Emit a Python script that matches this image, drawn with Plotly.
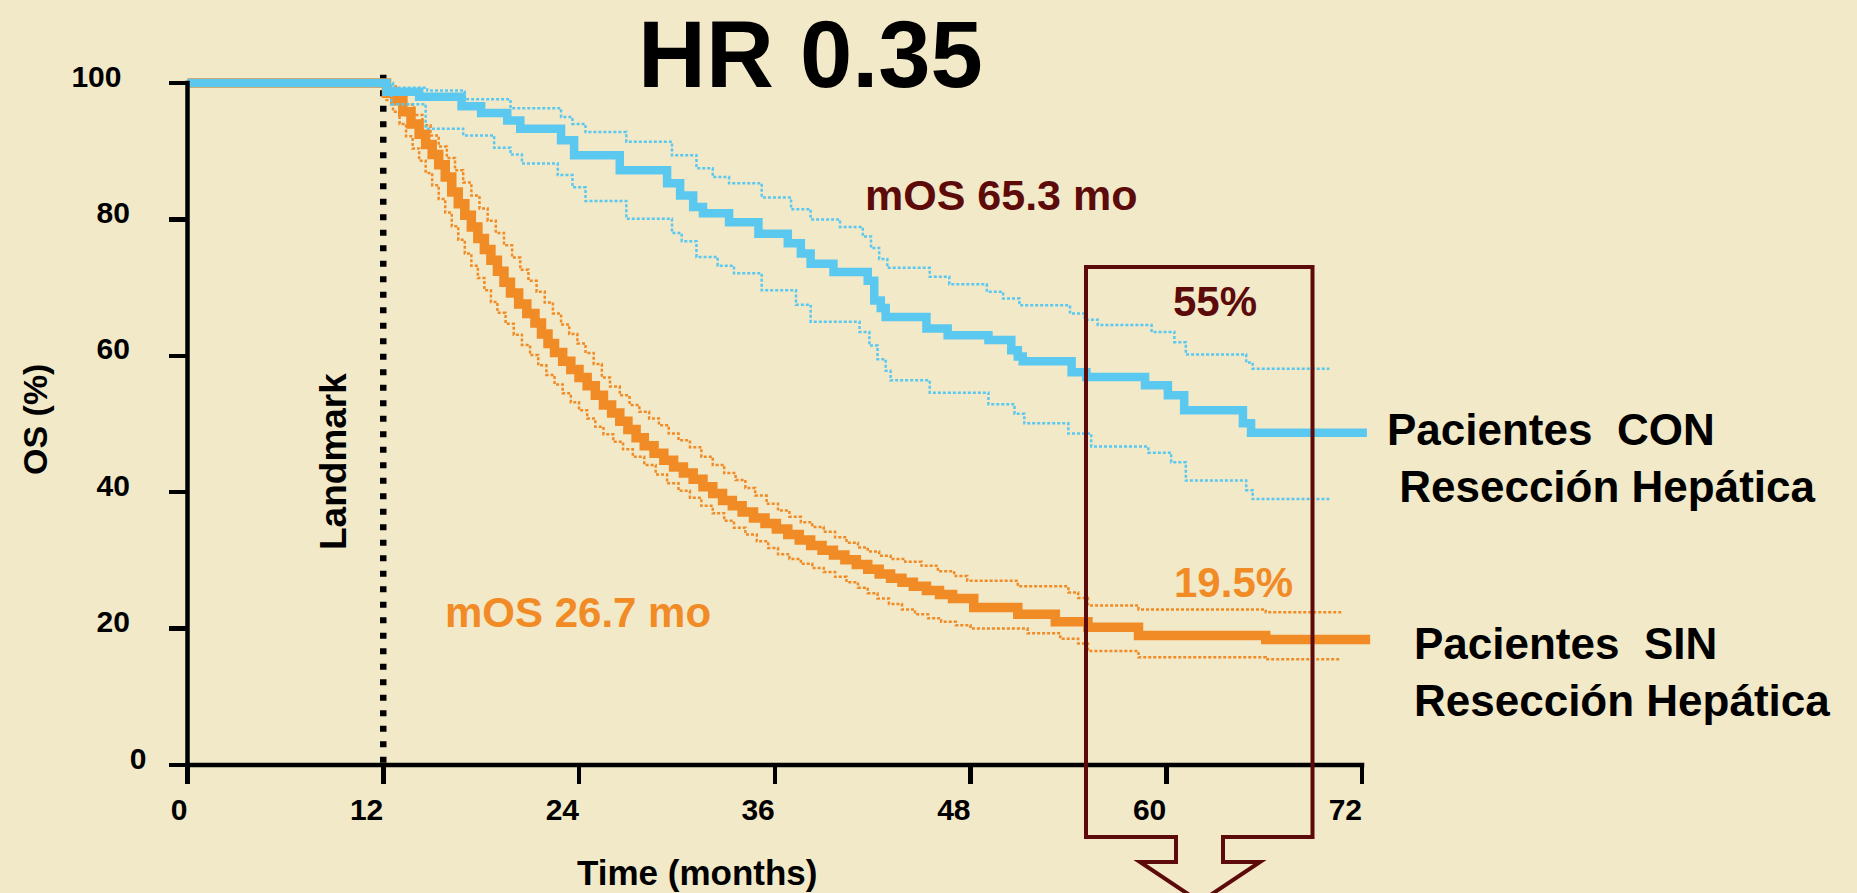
import plotly.graph_objects as go

# ---------------- data ----------------
LANDMARK = 12

# Pacientes CON resección hepática (blue)
con_t = [0, 12.2, 14.2, 16.8, 18.0, 19.6, 20.4, 22.9, 23.7, 26.5, 29.4, 30.2, 31.0, 31.6, 33.2, 35.0,
         36.8, 37.6, 38.2, 39.6, 41.7, 42.1, 42.5, 42.8, 45.3, 46.6, 49.1, 50.5, 50.9, 51.2, 54.2,
         55.1, 58.7, 60.1, 61.1, 64.7, 65.2, 72.3]
con_s = [100, 98.7, 98.0, 96.6, 95.6, 94.5, 93.3, 91.6, 89.4, 87.2, 85.3, 83.5, 81.8, 80.9, 79.6, 77.9,
         76.5, 75.0, 73.5, 72.3, 71.0, 68.1, 67.0, 65.7, 64.0, 63.0, 62.3, 60.8, 59.9, 59.2, 57.6,
         56.9, 55.7, 54.2, 52.0, 50.1, 48.7, 48.7]

con_up_t = [0, 12.6, 14.7, 17.0, 19.8, 22.9, 23.6, 24.4, 26.9, 29.7, 31.2, 32.2, 33.2, 35.2, 37.0,
            38.2, 40.0, 41.4, 41.9, 42.4, 42.9, 45.5, 46.7, 49.0, 50.0, 51.0, 54.1, 55.0, 55.8,
            59.1, 60.5, 61.2, 64.9, 65.3, 70.0]
con_up_s = [100, 99.3, 98.9, 97.6, 96.3, 95.0, 94.0, 92.8, 91.4, 89.4, 87.5, 86.2, 85.3, 83.2, 81.5,
            80.0, 78.9, 77.5, 75.8, 74.2, 72.9, 71.6, 70.5, 69.4, 68.4, 67.4, 66.2, 65.3, 64.5,
            63.5, 62.0, 60.2, 59.0, 58.1, 58.1]

con_lo_t = [0, 12.5, 14.6, 16.9, 18.8, 19.8, 20.5, 22.7, 23.6, 24.4, 26.9, 29.7, 30.3, 31.2, 32.5,
            33.5, 35.2, 37.3, 38.2, 41.2, 41.8, 42.3, 42.8, 43.1, 45.5, 49.1, 50.7, 51.3, 54.0,
            55.4, 58.9, 60.3, 61.2, 64.9, 65.3, 70.0]
con_lo_s = [100, 96.9, 93.3, 92.3, 90.5, 89.5, 88.2, 86.5, 84.7, 82.7, 80.1, 78.0, 76.8, 74.5, 73.2,
            72.1, 69.6, 67.5, 65.0, 63.5, 61.5, 59.5, 57.8, 56.4, 54.6, 52.9, 51.5, 50.1, 48.6,
            46.7, 45.8, 44.4, 41.7, 40.3, 39.0, 39.0]

# Pacientes SIN resección hepática (orange)
sin_t = [0, 12.2, 12.7, 13.2, 13.7, 14.2, 14.6, 15.0, 15.4, 15.8, 16.2, 16.6, 17.0, 17.4, 17.8, 18.2,
         18.6, 19.0, 19.4, 19.8, 20.3, 20.8, 21.3, 21.7, 22.1, 22.5, 23.0, 23.5, 24.0, 24.5, 25.0,
         25.5, 26.0, 26.5, 27.0, 27.5, 28.0, 28.6, 29.2, 29.8, 30.4, 31.0, 31.6, 32.2, 32.8, 33.4,
         34.0, 34.7, 35.4, 36.1, 36.8, 37.5, 38.2, 38.9, 39.6, 40.3, 41.0, 41.7, 42.4, 43.1, 43.8,
         44.5, 45.3, 46.1, 46.9, 48.2, 50.9, 53.2, 55.2, 58.3, 66.1, 72.5]
sin_s = [100, 98.5, 97.4, 95.8, 94.0, 92.5, 91.0, 89.5, 88.0, 86.2, 84.0, 82.3, 80.6, 78.9, 77.2, 75.6,
         74.0, 72.4, 70.8, 69.2, 67.6, 66.2, 64.8, 63.2, 61.8, 60.5, 59.2, 58.0, 56.8, 55.6, 54.2,
         52.8, 51.6, 50.4, 49.2, 48.0, 46.8, 45.7, 44.7, 43.7, 42.8, 41.9, 40.8, 39.8, 38.8, 38.0,
         37.1, 36.2, 35.4, 34.6, 33.8, 33.0, 32.2, 31.5, 30.8, 30.1, 29.4, 28.7, 28.0, 27.4, 26.8,
         26.2, 25.6, 25.0, 24.4, 23.1, 22.1, 21.0, 20.2, 19.0, 18.4, 18.4]

sin_up_t = [0, 12.4, 12.9, 13.4, 13.9, 14.4, 14.9, 15.4, 15.9, 16.4, 16.9, 17.4, 17.9, 18.4, 18.9,
            19.4, 19.9, 20.4, 20.9, 21.4, 21.9, 22.4, 22.9, 23.4, 23.9, 24.4, 24.9, 25.4, 25.9,
            26.5, 27.1, 27.7, 28.3, 28.9, 29.5, 30.1, 30.8, 31.5, 32.2, 32.9, 33.6, 34.2, 34.8,
            35.5, 36.2, 36.9, 37.6, 38.3, 39.0, 39.7, 40.4, 41.1, 41.7, 42.4, 43.1, 44.0, 45.0,
            46.0, 47.0, 47.8, 50.9, 54.0, 54.6, 55.2, 58.3, 66.1, 70.8]
sin_up_s = [100, 99.5, 98.3, 96.8, 95.3, 93.8, 92.3, 90.7, 89.0, 87.2, 85.4, 83.5, 81.6, 79.8, 78.0,
            76.2, 74.4, 72.6, 71.0, 69.4, 67.8, 66.2, 64.6, 63.2, 61.8, 60.4, 58.8, 56.8, 55.5,
            54.2, 52.8, 51.8, 50.8, 49.8, 48.6, 47.6, 46.6, 45.2, 44.0, 42.8, 41.8, 40.6, 39.5,
            38.3, 37.3, 36.4, 35.6, 34.9, 34.2, 33.4, 32.6, 31.9, 31.3, 30.7, 30.2, 29.8, 29.2,
            28.4, 27.7, 27.0, 26.2, 25.3, 24.5, 23.4, 22.8, 22.4, 22.4]

sin_lo_t = [0, 12.2, 12.6, 13.0, 13.4, 13.8, 14.2, 14.6, 15.0, 15.4, 15.8, 16.2, 16.6, 17.0, 17.4,
            17.8, 18.2, 18.6, 19.0, 19.5, 20.0, 20.5, 21.0, 21.5, 22.0, 22.5, 23.0, 23.5, 24.0,
            24.5, 25.0, 25.5, 26.1, 26.7, 27.3, 28.0, 28.7, 29.4, 30.1, 30.8, 31.5, 32.2, 32.9,
            33.5, 34.2, 34.9, 35.6, 36.2, 36.9, 37.6, 38.3, 39.0, 39.7, 40.4, 41.1, 41.7, 42.3,
            43.0, 43.8, 44.6, 45.4, 46.2, 47.1, 48.0, 51.5, 53.5, 54.6, 55.2, 58.3, 66.1, 70.6]
sin_lo_s = [100, 97.5, 95.8, 94.0, 92.2, 90.4, 88.6, 86.8, 85.0, 83.0, 81.0, 79.0, 77.0, 75.0, 73.2,
            71.4, 69.6, 67.9, 66.3, 64.7, 63.1, 61.6, 60.1, 58.6, 57.2, 55.8, 54.5, 53.2, 52.0,
            50.8, 49.6, 48.5, 47.4, 46.3, 45.2, 44.0, 42.6, 41.3, 40.2, 39.2, 38.0, 36.9, 35.8,
            34.8, 33.8, 32.8, 31.8, 30.9, 30.2, 29.5, 28.9, 28.3, 27.6, 26.8, 26.0, 25.2, 24.4,
            23.6, 22.8, 22.1, 21.5, 21.0, 20.5, 20.0, 19.3, 18.5, 17.8, 16.7, 15.8, 15.5, 15.5]

x_ticks = [0, 12, 24, 36, 48, 60, 72]
y_ticks = [0, 20, 40, 60, 80, 100]

# ---------------- styling / geometry ----------------
W, H = 1857, 893
FONT = "Liberation Sans, Arial, Helvetica, sans-serif"
BG = "#F2E9C9"
BLUE = "#5BC8F0"
ORANGE = "#F18B26"
DARKRED = "#5C0A0A"

X0_PX, X72_PX = 187.5, 1362.0
Y0_PX, Y100_PX = 765.0, 83.0
SX = (X72_PX - X0_PX) / 72.0
SY = (Y0_PX - Y100_PX) / 100.0


def px_x(m):
    return X0_PX + m * SX


def px_y(v):
    return Y0_PX - v * SY


def fx(px):
    return px / W


def fy(py):
    return 1 - py / H


XR = [-3, 75]
YR = [-4, 106]

fig = go.Figure()

# empty trace so the visible axes' subplot exists
fig.add_trace(go.Scatter(x=[], y=[], xaxis="x", yaxis="y", showlegend=False, hoverinfo="skip"))


def add_curve(t, s, color, width, dash=None):
    fig.add_trace(go.Scatter(
        x=t, y=s, mode="lines",
        line=dict(color=color, width=width, shape="hv", dash=dash),
        xaxis="x2", yaxis="y2", showlegend=False, hoverinfo="skip"))


# landmark dotted line
fig.add_trace(go.Scatter(
    x=[LANDMARK, LANDMARK], y=[101.2, 0], mode="lines",
    line=dict(color="black", width=6.5, dash="6px,9.5px"),
    xaxis="x2", yaxis="y2", showlegend=False, hoverinfo="skip"))

add_curve(sin_up_t, sin_up_s, ORANGE, 2.5, "3px,2px")
add_curve(sin_lo_t, sin_lo_s, ORANGE, 2.5, "3px,2px")
add_curve(sin_t, sin_s, ORANGE, 9.5)
add_curve(con_up_t, con_up_s, BLUE, 2.5, "3px,2px")
add_curve(con_lo_t, con_lo_s, BLUE, 2.5, "3px,2px")
add_curve(con_t, con_s, BLUE, 8.5)

NB = "\u00a0"
x_text = [str(v) + NB * (2 * len(str(v))) for v in x_ticks]
y_pad = {0: 0, 100: 3}
y_text = [str(v) + NB * y_pad.get(v, 2) for v in y_ticks]

tickfont = dict(family=FONT, size=30, color="black", weight="bold")

fig.update_layout(
    width=W, height=H,
    margin=dict(l=0, r=0, t=0, b=0, pad=0, autoexpand=False),
    paper_bgcolor=BG, plot_bgcolor="rgba(0,0,0,0)",
    showlegend=False,
    xaxis=dict(domain=[fx(px_x(0)), fx(px_x(72))], range=[0, 72], anchor="y",
               automargin=False,
               showline=False, showgrid=False, zeroline=False,
               ticks="outside", ticklen=18, tickwidth=4.5, tickcolor="black",
               tickvals=x_ticks, ticktext=x_text, tickfont=tickfont,
               ticklabelstandoff=0, fixedrange=True),
    yaxis=dict(domain=[fy(px_y(0)), fy(px_y(100))], range=[0, 100], anchor="x",
               automargin=False,
               showline=False, showgrid=False, zeroline=False,
               ticks="outside", ticklen=18, tickwidth=4.5, tickcolor="black",
               tickvals=y_ticks, ticktext=y_text, tickfont=tickfont,
               ticklabelstandoff=16, ticklabelshift=-7, fixedrange=True),
    xaxis2=dict(domain=[fx(px_x(XR[0])), fx(px_x(XR[1]))], range=XR, anchor="y2",
                automargin=False, visible=False, fixedrange=True),
    yaxis2=dict(domain=[fy(px_y(YR[0])), fy(px_y(YR[1]))], range=YR, anchor="x2",
                automargin=False, visible=False, fixedrange=True),
)

# axis lines
AXW = 4.5
shapes = [
    dict(type="line", xref="paper", yref="paper",
         x0=fx(px_x(0) - AXW / 2), x1=fx(px_x(72) + AXW / 2), y0=fy(px_y(0)), y1=fy(px_y(0)),
         line=dict(color="black", width=AXW)),
    dict(type="line", xref="paper", yref="paper",
         x0=fx(px_x(0)), x1=fx(px_x(0)), y0=fy(px_y(0) + AXW / 2), y1=fy(px_y(100) - AXW / 2),
         line=dict(color="black", width=AXW)),
]

# highlight box with arrow (pixel outline)
box_pts = [(1086, 267), (1312.5, 267), (1312.5, 837), (1223, 837), (1223, 862), (1260, 862),
           (1200, 902), (1140, 862), (1176, 862), (1176, 837), (1086, 837)]
path = "M " + " L ".join(f"{fx(x):.5f},{fy(y):.5f}" for x, y in box_pts) + " Z"
shapes.append(dict(type="path", xref="paper", yref="paper", path=path,
                   line=dict(color=DARKRED, width=4), fillcolor="rgba(0,0,0,0)"))
fig.update_layout(shapes=shapes)


def note(text, cx, cy, size, color="black", xanchor="center", angle=0, align="center",
         yanchor="middle", ypaper=None):
    fig.add_annotation(text=text, x=fx(cx), y=fy(cy) if ypaper is None else ypaper,
                       xref="paper", yref="paper",
                       xanchor=xanchor, yanchor=yanchor, showarrow=False, textangle=angle,
                       align=align,
                       font=dict(family=FONT, size=size, color=color, weight="bold"))


note("HR 0.35", 810, 0, 94, yanchor="top", ypaper=1.0)
note("mOS 65.3 mo", 1001, 195, 43, DARKRED)
note("55%", 1215, 301, 42, DARKRED)
note("19.5%", 1233, 582, 42, ORANGE)
note("mOS 26.7 mo", 578, 612, 42, ORANGE)
note("Landmark", 333, 462, 37, angle=-90)
note("OS (%)", 35, 420, 34, angle=-90)
note("Time (months)", 697, 872, 35)
note("Pacientes" + NB * 2 + "CON<br>" + NB + "Resección Hepática", 1385, 458, 44,
     xanchor="left", align="left")
note("Pacientes" + NB * 2 + "SIN<br>Resección Hepática", 1412, 672, 44,
     xanchor="left", align="left")

fig.write_html(
    "out.html",
    config={"displayModeBar": False, "staticPlot": True},
    post_script=("document.body.style.margin='0px';"
                 "document.body.style.padding='0px';"
                 "document.body.style.background='" + BG + "';"
                 "document.documentElement.style.background='" + BG + "';"),
)
